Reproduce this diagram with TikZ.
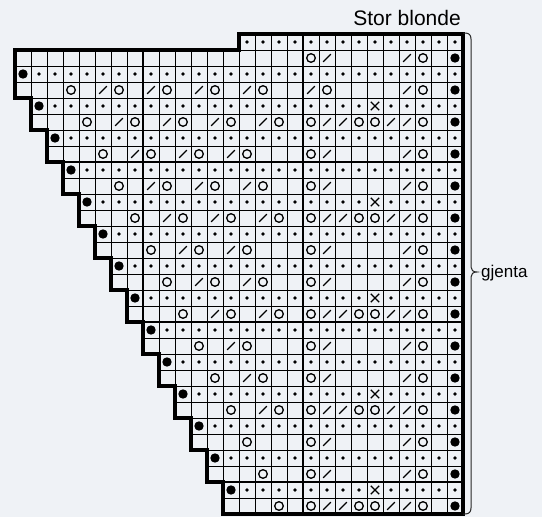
\documentclass[tikz,border=0pt]{standalone}
\usepackage{fontspec}
\setmainfont{Liberation Sans}
\definecolor{bg}{RGB}{239,242,246}
\newcommand\kO[2]{\draw[sym] ({23+16*#1},{26+16*#2}) circle (4.3);}
\newcommand\kS[2]{\draw[sym] ({23+16*#1-3.8},{26+16*#2+3.8}) -- ++(7.6,-7.6);}
\newcommand\kX[2]{\draw[sym] ({23+16*#1-4.2},{26+16*#2-4.2}) -- ++(8.4,8.4) ({23+16*#1-4.2},{26+16*#2+4.2}) -- ++(8.4,-8.4);}
\newcommand\kd[2]{\fill ({23+16*#1},{26+16*#2}) circle (1.9);}
\newcommand\kB[2]{\fill ({23+16*#1},{26+16*#2}) circle (4.7);}
\begin{document}
\begin{tikzpicture}[x=1pt,y=-1pt,
  gridline/.style={line width=0.9pt, draw=black},
  heavy/.style={line width=2pt, draw=black},
  outline/.style={line width=3.4pt, draw=black, line join=miter},
  sym/.style={line width=1.3pt, draw=black},
  bracestyle/.style={line width=1pt, draw=black!85}]
\fill[bg] (0,0) rectangle (542,517);
\useasboundingbox (0,0) rectangle (542,517);
% cells
\foreach \r/\s in {1/14,2/0,3/0,4/0,5/1,6/1,7/2,8/2,9/3,10/3,11/4,12/4,13/5,14/5,15/6,16/6,17/7,18/7,19/8,20/8,21/9,22/9,23/10,24/10,25/11,26/11,27/12,28/12,29/13,30/13}{
  \foreach \c in {\s,...,27}{
    \draw[gridline] ({15+16*\c},{18+16*\r}) rectangle ++(16,16);
  }
}
% heavy division lines
\draw[heavy] (143,50) -- (143,322);
\draw[heavy] (303,34) -- (303,514);
\draw[heavy] (47,162) -- (463,162);
\draw[heavy] (143,322) -- (463,322);
\draw[heavy] (223,482) -- (463,482);
% outline
\draw[outline] (15,50) -- (239,50) -- (239,34) -- (463,34) -- (463,514) -- (223,514)
  -- (223,482) -- (207,482) -- (207,450) -- (191,450) -- (191,418) -- (175,418)
  -- (175,386) -- (159,386) -- (159,354) -- (143,354) -- (143,322) -- (127,322)
  -- (127,290) -- (111,290) -- (111,258) -- (95,258) -- (95,226) -- (79,226)
  -- (79,194) -- (63,194) -- (63,162) -- (47,162) -- (47,130) -- (31,130)
  -- (31,98) -- (15,98) -- cycle;
% row 1 dots
\foreach \c in {14,...,27}{\kd{\c}{1}}
% odd rows: big dot at start, small dots, X
\foreach \r/\s in {3/0,5/1,7/2,9/3,11/4,13/5,15/6,17/7,19/8,21/9,23/10,25/11,27/12,29/13}{
  \kB{\s}{\r}
  \pgfmathtruncatemacro\t{\s+1}
  \foreach \c in {\t,...,27}{
    \pgfmathtruncatemacro\isx{(\c==22)&&(mod(\r-5,6)==0)}
    \ifnum\isx=1 \kX{\c}{\r}\else\kd{\c}{\r}\fi
  }
}
% even rows: big dot at right edge
\foreach \r in {2,4,...,30}{\kB{27}{\r}}
% yarn overs
\foreach \r/\l in {2/{18,25},4/{3,6,9,12,15,19,25},6/{4,7,10,13,16,18,21,22,25},
  8/{5,8,11,14,18,25},10/{6,9,12,15,18,25},12/{7,10,13,16,18,21,22,25},
  14/{8,11,14,18,25},16/{9,12,15,18,25},18/{10,13,16,18,21,22,25},
  20/{11,14,18,25},22/{12,15,18,25},24/{13,16,18,21,22,25},
  26/{14,18,25},28/{15,18,25},30/{16,18,21,22,25}}{
  \foreach \c in \l {\kO{\c}{\r}}
}
% decreases
\foreach \r/\l in {2/{19,24},4/{5,8,11,14,18,24},6/{6,9,12,15,19,20,23,24},
  8/{7,10,13,19,24},10/{8,11,14,19,24},12/{9,12,15,19,20,23,24},
  14/{10,13,19,24},16/{11,14,19,24},18/{12,15,19,20,23,24},
  20/{13,19,24},22/{14,19,24},24/{15,19,20,23,24},
  26/{19,24},28/{19,24},30/{19,20,23,24}}{
  \foreach \c in \l {\kS{\c}{\r}}
}
% brace
\draw[bracestyle] (463,33) -- (465,33) .. controls (469,33) and (471,35) .. (471,39)
  -- (471,267) .. controls (471,270) and (473,272) .. (477,272)
  .. controls (473,272) and (471,274) .. (471,277)
  -- (471,508) .. controls (471,512) and (469,514) .. (465,514) -- (463,514);
% texts
\node[anchor=base east, inner sep=0pt, font=\fontsize{21}{24}\selectfont] (title) at (461,25) {Stor blonde};
\node[anchor=west, inner sep=0pt, font=\fontsize{17}{20}\selectfont] (gjenta) at (481,273) {gjenta};
\end{tikzpicture}
\end{document}
